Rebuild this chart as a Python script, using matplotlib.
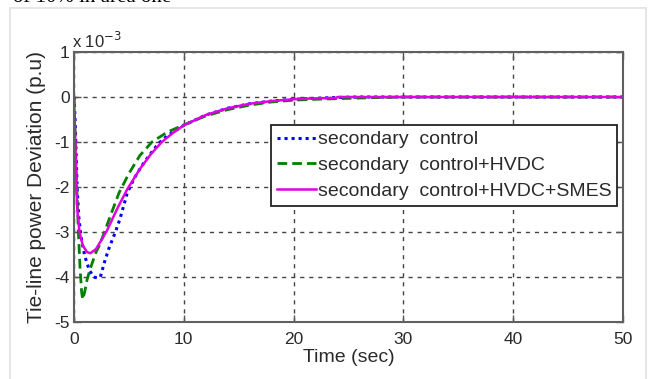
import matplotlib
matplotlib.use("Agg")
import matplotlib.pyplot as plt
from matplotlib.patches import Rectangle

# Lectures faites sur la figure (x 10^-3 p.u)
t_sec = [0, 0.1, 0.2, 0.3, 0.45, 0.7, 1.0, 1.4, 1.8, 2.1, 2.4, 2.8, 3.2, 3.77,
         4.2, 4.85, 5.5, 6.2, 7.0, 7.7, 8.5, 10, 12, 14, 16, 18, 20, 22, 24, 26, 30, 50]
y_sec = [0, -0.5, -1.3, -2.1, -2.7, -3.2, -3.55, -3.85, -4.0, -4.02, -4.0, -3.65, -3.35, -3.0,
         -2.7, -2.13, -1.8, -1.52, -1.25, -1.03, -0.86, -0.63, -0.4, -0.25, -0.15, -0.09, -0.05,
         -0.03, -0.01, 0, 0, 0]

t_hvdc = [0, 0.1, 0.25, 0.4, 0.55, 0.7, 0.8, 1.0, 1.2, 1.5, 2.0, 2.4, 3.3, 4.1, 5.0, 6.0,
          7.1, 8.5, 10, 12, 14, 16, 18, 20, 22, 25, 28, 30, 50]
y_hvdc = [0, -0.8, -2.0, -3.0, -3.8, -4.35, -4.5, -4.3, -4.05, -3.8, -3.45, -3.25, -2.65,
          -2.13, -1.7, -1.3, -1.0, -0.78, -0.62, -0.42, -0.28, -0.18, -0.11, -0.07, -0.05,
          -0.03, -0.01, 0, 0]

t_smes = [0, 0.1, 0.2, 0.3, 0.5, 0.8, 1.2, 1.5, 2.0, 2.5, 3.0, 4.0, 4.85, 6.0, 7.0, 8.0,
          9.0, 10, 12, 14, 16, 18, 20, 22, 23.9, 24, 50]
y_smes = [0, -0.8, -1.8, -2.5, -3.0, -3.3, -3.45, -3.47, -3.38, -3.18, -2.97, -2.45, -2.05,
          -1.6, -1.27, -1.0, -0.8, -0.63, -0.4, -0.25, -0.15, -0.09, -0.05, -0.03, -0.02, 0, 0]

labels = ["secondary  control", "secondary  control+HVDC", "secondary  control+HVDC+SMES"]
xticks = [0, 10, 20, 30, 40, 50]
yticks = [-5, -4, -3, -2, -1, 0, 1]

W, H = 654, 379
plt.rcParams["font.family"] = ["Liberation Sans", "DejaVu Sans"]
plt.rcParams["axes.unicode_minus"] = False
txt = "#2a2a2a"

fig = plt.figure(figsize=(W / 100, H / 100), dpi=100)
# cadre gris clair de la capture
fig.patches.append(Rectangle((10 / W, -0.01), 636 / W, 1 - 8 / H + 0.01,
                             transform=fig.transFigure, fill=False,
                             edgecolor="#e2e2e2", linewidth=1.2))
fig.text(13 / W, 1 - 2 / H, "of 10% in area one", family="Liberation Serif",
         fontsize=15, va="baseline", color="black")

ax = fig.add_axes([74 / W, 1 - 322 / H, 549 / W, 270 / H])
ax.plot(t_sec, y_sec, color="#0000ff", linestyle=(0, (1, 1.3)), linewidth=2.2, label=labels[0])
ax.plot(t_hvdc, y_hvdc, color="#008000", linestyle=(0, (3.5, 1.8)), linewidth=2.0, label=labels[1])
ax.plot(t_smes, y_smes, color="#e000e0", linewidth=1.8, label=labels[2])

ax.set_xlim(0, 50)
ax.set_ylim(-5, 1)
ax.set_xticks(xticks)
ax.set_yticks(yticks)
ax.tick_params(direction="in", length=5, width=1, colors="#555555", labelcolor=txt,
               labelsize=12.5, top=True, right=True)
ax.tick_params(axis="x", pad=7)
ax.tick_params(axis="y", pad=3)
ax.grid(True, color="#444444", linestyle=(0, (3, 3.5)), linewidth=1.0)
for s in ax.spines.values():
    s.set_color("#606060")
    s.set_linewidth(1.5)

ax.set_xlabel("Time (sec)", fontsize=14, color=txt, labelpad=2)
ax.set_ylabel("Tie-line power Deviation (p.u)", fontsize=15, color=txt, labelpad=6)
fig.text(72 / W, 1 - 48 / H, r"x 10$^{-3}$", fontsize=12, color=txt, va="baseline")

leg = ax.legend(loc="upper right", bbox_to_anchor=(617 / W, 1 - 125 / H),
                bbox_transform=fig.transFigure, fontsize=14, frameon=True,
                fancybox=False, edgecolor="#222222", framealpha=1,
                handlelength=2.0, handletextpad=0.1, labelspacing=0.42,
                borderpad=0.3, borderaxespad=0)
leg.get_frame().set_linewidth(1.3)
for t in leg.get_texts():
    t.set_color(txt)

fig.savefig("out.png", dpi=100)
